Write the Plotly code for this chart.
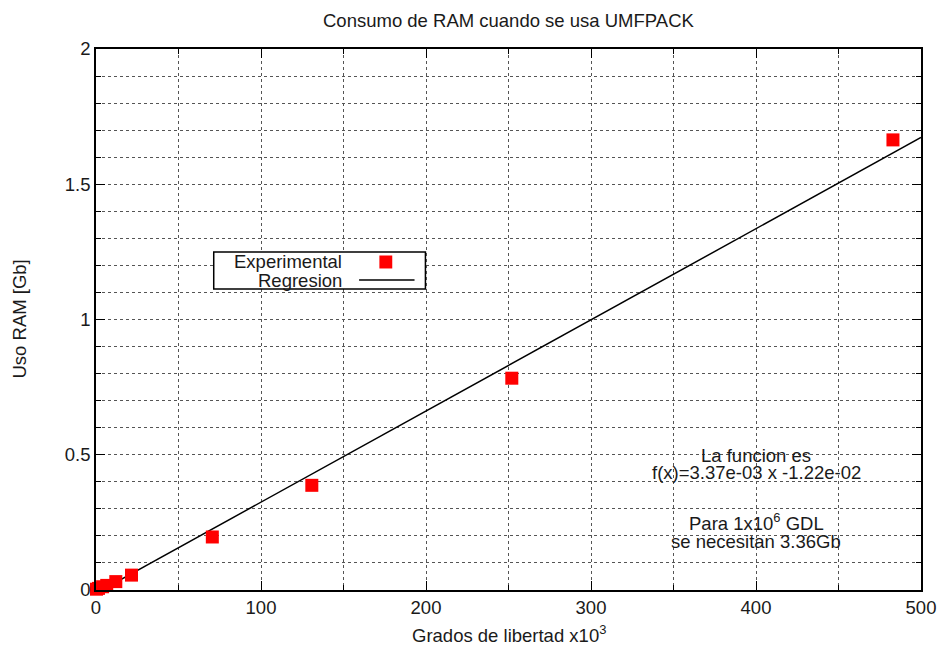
import plotly.graph_objects as go

# Data
exp_x = [0.3, 1.5, 4.0, 6.5, 12.0, 21.5, 70.5, 130.8, 252.0, 483.0]
exp_y = [0.003, 0.006, 0.012, 0.017, 0.031, 0.055, 0.196, 0.387, 0.783, 1.664]
reg_x = [0.0, 500.0]
reg_y = [-0.0122, 1.6728]

title = "Consumo de RAM cuando se usa UMFPACK"
xlabel = "Grados de libertad x10<sup>3</sup>"
ylabel = "Uso RAM [Gb]"
x_ticks = [0, 100, 200, 300, 400, 500]
y_ticks = [0, 0.5, 1, 1.5, 2]
y_tick_labels = ["0", "0.5", "1", "1.5", "2"]

FONT = "Liberation Sans, Arial, Helvetica, sans-serif"
FS = 18.5
TXT = "#1a1a1a"
GRID = "#555555"

fig = go.Figure()
fig.add_trace(go.Scatter(x=reg_x, y=reg_y, mode="lines", name="Regresion",
                         line=dict(color="black", width=1.5), showlegend=False))
fig.add_trace(go.Scatter(x=exp_x, y=exp_y, mode="markers", name="Experimental",
                         marker=dict(symbol="square", size=13, color="#ff0000",
                                     line=dict(width=0)),
                         cliponaxis=False, showlegend=False))

axis_common = dict(
    showline=True, linecolor="black", linewidth=1.5, mirror="allticks",
    ticks="inside", ticklen=9, tickwidth=1, tickcolor="black",
    showgrid=True, gridcolor=GRID, griddash="dot", gridwidth=1,
    zeroline=False, tickfont=dict(family=FONT, size=FS, color=TXT),
    ticklabeloverflow="allow",
)

fig.update_xaxes(range=[0, 500], tickvals=x_ticks, ticktext=[str(v) for v in x_ticks],
                 minor=dict(dtick=50, tick0=0, ticks="inside", ticklen=5, tickcolor="black",
                            showgrid=True, gridcolor=GRID, griddash="dot", gridwidth=1),
                 **axis_common)
fig.update_yaxes(range=[0, 2], tickvals=y_ticks, ticktext=y_tick_labels,
                 minor=dict(dtick=0.1, tick0=0, ticks="inside", ticklen=5, tickcolor="black",
                            showgrid=True, gridcolor=GRID, griddash="dot", gridwidth=1),
                 **axis_common)

annotations = [
    dict(text=title, xref="paper", yref="paper", x=0.5, y=1, yanchor="middle",
         yshift=29, showarrow=False, font=dict(family=FONT, size=FS, color=TXT)),
    dict(text=xlabel, xref="paper", yref="paper", x=0.5, y=0, yanchor="middle",
         yshift=-44, showarrow=False, font=dict(family=FONT, size=FS, color=TXT)),
    dict(text=ylabel, xref="paper", yref="paper", x=0, y=0.5, xanchor="center",
         xshift=-77, textangle=-90, showarrow=False, font=dict(family=FONT, size=FS, color=TXT)),
    dict(text="La funcion es", x=400, y=0.499, showarrow=False,
         font=dict(family=FONT, size=FS, color=TXT)),
    dict(text="f(x)=3.37e-03 x -1.22e-02", x=400, y=0.436, showarrow=False,
         font=dict(family=FONT, size=FS, color=TXT)),
    dict(text="Para 1x10<sup>6</sup> GDL", x=400, y=0.250, showarrow=False,
         font=dict(family=FONT, size=FS, color=TXT)),
    dict(text="se necesitan 3.36Gb", x=400, y=0.181, showarrow=False,
         font=dict(family=FONT, size=FS, color=TXT)),
    # manual gnuplot-style legend text
    dict(text="Experimental", xref="paper", yref="paper", x=0.301, y=0.6063,
         xanchor="right", yanchor="middle", showarrow=False,
         font=dict(family=FONT, size=FS, color=TXT)),
    dict(text="Regresion", xref="paper", yref="paper", x=0.301, y=0.5712,
         xanchor="right", yanchor="middle", showarrow=False,
         font=dict(family=FONT, size=FS, color=TXT)),
]

shapes = [
    dict(type="rect", xref="paper", yref="paper", x0=0.1427, x1=0.3993, y0=0.5564, y1=0.6248,
         line=dict(color="black", width=1.5), fillcolor="white", layer="above"),
    dict(type="rect", xref="paper", yref="paper", x0=0.3513 - 0.0078, x1=0.3513 + 0.0078,
         y0=0.6063 - 0.012, y1=0.6063 + 0.012, line=dict(width=0), fillcolor="#ff0000",
         layer="above"),
    dict(type="line", xref="paper", yref="paper", x0=0.3189, x1=0.3861, y0=0.573, y1=0.573,
         line=dict(color="black", width=1.5), layer="above"),
]

# The page places the figure 8 px in from the top-left corner; the figure is sized
# and its margins set so the plot box lands where the reference has it.
fig.update_layout(
    width=940, height=640,
    margin=dict(l=88, r=17, t=41, b=58),
    paper_bgcolor="white", plot_bgcolor="white",
    showlegend=False,
    annotations=annotations, shapes=shapes,
    font=dict(family=FONT, size=FS, color=TXT),
)

fig.write_html("out.html", config={"displayModeBar": False})
